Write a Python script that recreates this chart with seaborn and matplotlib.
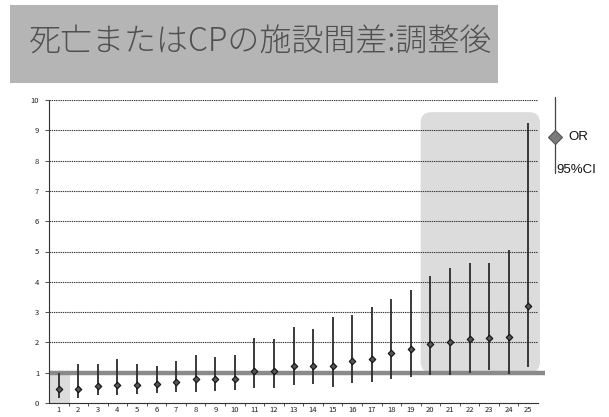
import matplotlib
matplotlib.use("Agg")
import matplotlib.pyplot as plt
from matplotlib.patches import FancyBboxPatch, Rectangle
from matplotlib.lines import Line2D
import seaborn as sns
import pandas as pd

# Facility-level odds ratios (death or CP) with 95% confidence intervals, adjusted
facility = list(range(1, 26))
odds_ratio = [0.46, 0.46, 0.57, 0.59, 0.59, 0.62, 0.69, 0.78, 0.78, 0.79,
              1.05, 1.05, 1.23, 1.23, 1.23, 1.40, 1.46, 1.65, 1.79, 1.96,
              2.01, 2.11, 2.13, 2.19, 3.20]
ci_lower = [0.15, 0.18, 0.25, 0.25, 0.29, 0.32, 0.37, 0.37, 0.39, 0.43,
            0.51, 0.51, 0.59, 0.62, 0.54, 0.67, 0.69, 0.80, 0.86, 0.91,
            0.91, 0.98, 1.09, 0.96, 1.20]
ci_upper = [0.99, 1.29, 1.29, 1.44, 1.29, 1.23, 1.39, 1.60, 1.53, 1.58,
            2.13, 2.11, 2.52, 2.44, 2.84, 2.91, 3.16, 3.44, 3.74, 4.19,
            4.46, 4.61, 4.62, 5.05, 9.23]
y_ticks = list(range(0, 11))
title = "死亡またはCPの施設間差:調整後"

df = pd.DataFrame({"facility": facility, "OR": odds_ratio,
                   "lo": ci_lower, "hi": ci_upper})

sns.set_theme(style="white")
plt.rcParams["font.family"] = ["Noto Sans CJK JP", "DejaVu Sans"]

W, H = 609, 417
fig = plt.figure(figsize=(W / 100, H / 100), dpi=100)
fig.patch.set_facecolor("white")

# Title banner
banner = Rectangle((10 / W, 1 - 83 / H), 488 / W, 78 / H,
                   transform=fig.transFigure, facecolor="#b5b5b5",
                   edgecolor="none", zorder=0)
fig.patches.append(banner)
fig.text(261 / W, 1 - 42 / H, title, ha="center", va="center",
         fontsize=23, fontweight="light", color="#505050",
         family=["Noto Sans CJK JP", "DejaVu Sans"])

ax = fig.add_axes([49 / W, 14 / H, 489 / W, 303 / H])
ax.set_xlim(0.5, 25.5)
ax.set_ylim(0, 10)
ax.set_facecolor("none")

# highlighted regions
px_x = 25 / 489   # data units per pixel (x)
px_y = 10 / 303   # data units per pixel (y)
hl = FancyBboxPatch((19.5, 1.0), 6.1, 8.6,
                    boxstyle="round,pad=0,rounding_size=0.55",
                    mutation_aspect=px_y / px_x,
                    facecolor="#dcdcdc", edgecolor="none", zorder=0.5,
                    clip_on=False)
ax.add_patch(hl)
ax.add_patch(Rectangle((0.5, 0.0), 1.07, 1.0, facecolor="#dcdcdc",
                       edgecolor="none", zorder=0.5))

# gridlines
for v in y_ticks[2:]:
    ax.axhline(v, color="#333333", lw=0.8, ls=(0, (1.2, 0.8)), zorder=1)

# reference line at OR = 1
ax.plot([0.5, 25.85], [1.0, 1.0], color="#8a8a8a", lw=3.2,
        solid_capstyle="butt", zorder=2, clip_on=False)

# confidence intervals
ax.vlines(df["facility"], df["lo"], df["hi"], color="#2b2b2b", lw=1.3, zorder=3)

# point estimates
sns.scatterplot(data=df, x="facility", y="OR", marker="D", s=11,
                color="#555555", edgecolor="#111111", linewidth=0.8,
                ax=ax, zorder=4, legend=False)

ax.set_xlabel("")
ax.set_ylabel("")
ax.set_xticks(facility)
ax.set_xticklabels([str(f) for f in facility])
ax.set_xticks([f + 0.5 for f in facility[:-1]], minor=True)
ax.set_yticks(y_ticks)
ax.set_yticklabels([str(v) for v in y_ticks])
ax.tick_params(axis="x", which="major", length=0, pad=2.5, labelsize=5.5,
               labelcolor="#222222")
ax.tick_params(axis="x", which="minor", length=2.5, width=0.6, color="#333333",
               bottom=True)
ax.tick_params(axis="y", which="major", length=3, width=0.6, color="#333333",
               pad=4, labelsize=5.5, labelcolor="#222222", left=True)

for side in ("top", "right"):
    ax.spines[side].set_visible(False)
for side in ("left", "bottom"):
    ax.spines[side].set_color("#333333")
    ax.spines[side].set_linewidth(0.8)
    ax.spines[side].set_linestyle((0, (1.2, 0.8)))

# legend
fig.add_artist(Line2D([555 / W, 555 / W], [1 - 97 / H, 1 - 173 / H],
                      transform=fig.transFigure, color="#444444", lw=0.9))
fig.add_artist(Line2D([555 / W], [1 - 137 / H], transform=fig.transFigure,
                      marker="D", markersize=7, markerfacecolor="#7a7a7a",
                      markeredgecolor="#555555", markeredgewidth=0.8, ls="none"))
fig.text(568 / W, 1 - 137 / H, "OR", ha="left", va="center", fontsize=9.5,
         color="#111111", family=["Liberation Sans", "DejaVu Sans"])
fig.text(556 / W, 1 - 170 / H, "95%CI", ha="left", va="center", fontsize=9.5,
         color="#111111", family=["Liberation Sans", "DejaVu Sans"])

fig.savefig("out.png", dpi=100, facecolor="white")
